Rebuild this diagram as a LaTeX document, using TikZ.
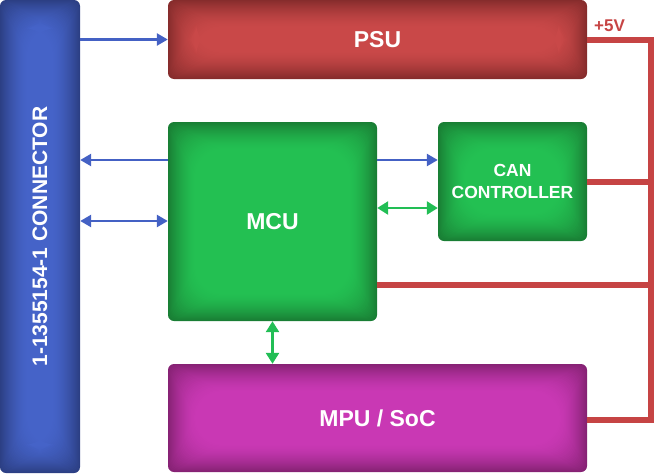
\documentclass[tikz,border=0pt]{standalone}
\usepackage{fontspec}
\setmainfont{Liberation Sans}
\usetikzlibrary{arrows.meta}

\definecolor{blueLight}{HTML}{4563C8}
\definecolor{blueDark}{HTML}{2C3F84}
\definecolor{redLight}{HTML}{C94848}
\definecolor{redDark}{HTML}{862C2C}
\definecolor{greenLight}{HTML}{23C052}
\definecolor{greenDark}{HTML}{197E34}
\definecolor{magLight}{HTML}{C938B4}
\definecolor{magDark}{HTML}{862274}
\definecolor{busBlue}{HTML}{4461C4}
\definecolor{busGreen}{HTML}{22BE55}
\definecolor{railRed}{HTML}{C64444}

\tikzset{
    block/.style={rounded corners=6pt, text=white, align=center, inner sep=0pt,
        font=\bfseries\fontsize{23}{27}\selectfont},
    glow/.style 2 args={fill=#2, path picture={
        \foreach \d in {1,...,28}{
            \pgfmathsetmacro\p{100*(1-(1-\d/28)^1.6)}
            \fill[#1!\p!#2, rounded corners=6pt+0.8*\d*1pt]
                ([xshift=\d*1pt, yshift=\d*1pt]path picture bounding box.south west) rectangle
                ([xshift=-\d*1pt, yshift=-\d*1pt]path picture bounding box.north east);
        }}},
    busB/.style={busBlue, line width=2.5pt, arrows={-Triangle[length=11pt,width=12pt]}},
    busG/.style={busGreen, line width=2.5pt, arrows={Triangle[length=11pt,width=13pt]-Triangle[length=11pt,width=13pt]}},
    pwr/.style={railRed, line width=6pt, line join=miter}
}

\begin{document}
\begin{tikzpicture}[x=1pt,y=-1pt]
\useasboundingbox (0,0) rectangle (656,474);
% Blocks
\node[block, glow={blueLight}{blueDark}, minimum width=80pt, minimum height=473pt,
    font=\bfseries\fontsize{21}{25}\selectfont] (CONN) at (40,236.5)
    {\rotatebox{90}{1-1355154-1 CONNECTOR}};
\node[block, glow={redLight}{redDark}, minimum width=419pt, minimum height=79pt] (PSU) at (377.5,39.5){PSU};
\node[block, glow={greenLight}{greenDark}, minimum width=209pt, minimum height=199pt] (MCU) at (272.5,221.5){MCU};
\node[block, glow={greenLight}{greenDark}, minimum width=149pt, minimum height=119pt,
    font=\bfseries\fontsize{17.5}{22}\selectfont] (CAN) at (512.5,181.5){CAN\\CONTROLLER};
\node[block, glow={magLight}{magDark}, minimum width=419pt, minimum height=108pt] (MPU) at (377.5,418){MPU / SoC};
% Power rail
\coordinate (railTop) at (651,39.5);
\coordinate (railBot) at (651,420);
\draw[pwr] (PSU.east) -- (railTop) -- (railBot) -- (MPU.east |- railBot);
\draw[pwr] (CAN.east) -- (CAN.east -| railTop);
\draw[pwr] (MCU.east |- 0,285) -- (railTop |- 0,285);
\node[railRed, font=\bfseries\fontsize{17}{19}\selectfont] (V5) at (609.5,26){+5V};
% Buses
\draw[busB] (CONN.east |- PSU.west) -- (PSU.west);
\draw[busB] (MCU.west |- 0,160) -- (CONN.east |- 0,160);
\draw[busB, arrows={Triangle[length=11pt,width=12pt]-Triangle[length=11pt,width=12pt]}] (CONN.east |- 0,221) -- (MCU.west |- 0,221);
\draw[busB] (MCU.east |- 0,160) -- (CAN.west |- 0,160);
\draw[busG] (MCU.east |- 0,208) -- (CAN.west |- 0,208);
\draw[busG] (MCU.south) -- (MCU.south |- MPU.north);
\end{tikzpicture}
\end{document}
